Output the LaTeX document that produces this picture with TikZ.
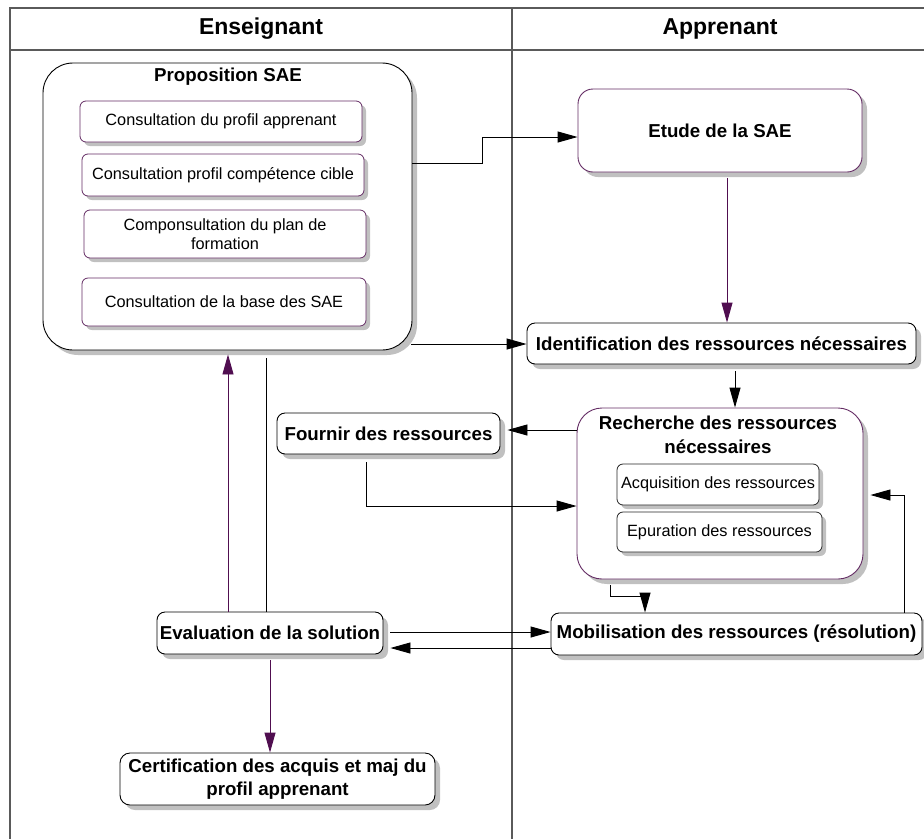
\documentclass[tikz,border=0pt]{standalone}
\usepackage{fontspec}
\setmainfont{Liberation Sans}
\usetikzlibrary{arrows.meta,shadows,calc}

\definecolor{plum}{RGB}{80,14,80}
\definecolor{plumedge}{RGB}{100,44,100}
\definecolor{lanegray}{RGB}{90,90,90}
\definecolor{shade}{RGB}{192,192,192}

\newcommand\boldtxt{\fontsize{18.7}{23.5}\selectfont\bfseries}
\newcommand\plaintxt{\fontsize{16.3}{18.5}\selectfont}
\newcommand\headtxt{\fontsize{23}{27}\selectfont\bfseries}

\tikzset{
  shade box/.style={drop shadow={shadow xshift=5pt,shadow yshift=-5pt,fill=shade,opacity=1}},
  small shade/.style={drop shadow={shadow xshift=4pt,shadow yshift=-4pt,fill=shade,opacity=1}},
  actbox/.style={draw=black, line width=0.9pt, fill=white, rounded corners=8pt,
    inner sep=0pt, align=center, font=\boldtxt, shade box},
  groupbox/.style={actbox, rounded corners=30pt},
  purplegroup/.style={groupbox, draw=plumedge, rounded corners=25pt},
  subbox/.style={draw=plumedge, line width=0.8pt, fill=white, rounded corners=6pt,
    inner sep=0pt, align=center, font=\plaintxt, small shade},
  darksub/.style={subbox, draw=black!85},
  boxtitle/.style={inner sep=0pt, align=center, font=\boldtxt},
  lane/.style={draw=lanegray, line width=1.3pt},
  lanehead/.style={inner sep=0pt, font=\headtxt},
  arr/.style={draw=black, line width=0.9pt, -{Triangle[length=20pt,width=11pt]}},
  parr/.style={draw=plum, line width=0.9pt, -{Triangle[length=20pt,width=11pt]}},
  plainline/.style={draw=black, line width=0.9pt},
}

\begin{document}
\begin{tikzpicture}[x=1pt,y=-1pt]
\useasboundingbox (0,0) rectangle (924,839);

% swimlanes
\draw[lane] (924,8) -- (10,8) -- (10,839);
\draw[lane] (10,50) -- (924,50);
\draw[lane] (512,8) -- (512,839);
\node[lanehead] (hteacher) at (261,29) {Enseignant};
\node[lanehead] (hlearner) at (720,29) {Apprenant};

% teacher's proposal and its steps
\node[groupbox, minimum width=369pt, minimum height=287pt] (prop) at (227.5,206.5) {};
\node[boxtitle] (proptitle) at (228,77) {Proposition SAE};
\node[subbox, minimum width=282pt, minimum height=41pt] (sub1) at (221,121.5) {Consultation du profil apprenant};
\node[subbox, minimum width=282pt, minimum height=42pt] (sub2) at (223,175) {Consultation profil compétence cible};
\node[subbox, minimum width=282pt, minimum height=48pt] (sub3) at (225,234) {Componsultation du plan de\\formation};
\node[subbox, minimum width=284pt, minimum height=48pt] (sub4) at (224,302) {Consultation de la base des SAE};

% learner side
\node[actbox, draw=plumedge, rounded corners=15pt, minimum width=284pt, minimum height=83pt] (etude) at (720,130.5) {Etude de la SAE};
\node[actbox, minimum width=389pt, minimum height=41pt] (ident) at (721.5,343.5) {Identification des ressources nécessaires};
\node[purplegroup, minimum width=286pt, minimum height=171pt] (rech) at (720,493.5) {};
\node[boxtitle] (rechtitle) at (718,435) {Recherche des ressources\\nécessaires};
\node[darksub, minimum width=202pt, minimum height=41pt] (acq) at (718,484.5) {Acquisition des ressources};
\node[darksub, minimum width=205pt, minimum height=40pt] (epur) at (719.5,532) {Epuration des ressources};
\node[actbox, minimum width=371pt, minimum height=42pt] (mob) at (736.5,634) {Mobilisation des ressources (résolution)};

% teacher side, lower part
\node[actbox, minimum width=223pt, minimum height=41pt] (fournir) at (388.5,433.5) {Fournir des ressources};
\node[actbox, minimum width=226pt, minimum height=42pt] (eval) at (270,633) {Evaluation de la solution};
\node[actbox, rounded corners=10pt, minimum width=315pt, minimum height=52pt] (cert) at (277.5,779) {Certification des acquis et maj du\\profil apprenant};

% connectors
\draw[arr] (prop.east |- 0,163) -- (482,163) |- (etude.west |- 0,137);
\draw[parr] ($(etude.south -| 727,0)+(0,6)$) -- (ident.north -| 727,0);
\draw[arr] ($(prop.east |- 0,344)+(-1,0)$) -- (ident.west |- 0,344);
\draw[arr] ($(ident.south -| 735,0)+(0,7)$) -- (rech.north -| 735,0);
\draw[arr] (rech.west |- 0,430) -- ($(fournir.east |- 0,430)+(7,0)$);
\draw[arr] ($(fournir.south -| 366,0)+(0,8)$) |- (rech.west |- 0,506);
\draw[arr] (mob.north -| 904,0) |- ($(rech.east |- 0,495)+(7,0)$);
\draw[arr] ($(rech.south -| 610,0)+(0,6)$) |- (645,596) -- (mob.north -| 645,0);
\draw[arr] ($(eval.east |- 0,632)+(7,0)$) -- (mob.west |- 0,632);
\draw[arr] (mob.west |- 0,648) -- ($(eval.east |- 0,648)+(7,0)$);
\draw[parr] (eval.north -| 228,0) -- ($(prop.south -| 228,0)+(0,4)$);
\draw[plainline] (eval.north -| 266,0) -- ($(prop.south -| 266,0)+(0,8)$);
\draw[parr] ($(eval.south -| 270,0)+(0,6)$) -- (cert.north -| 270,0);
\end{tikzpicture}
\end{document}
